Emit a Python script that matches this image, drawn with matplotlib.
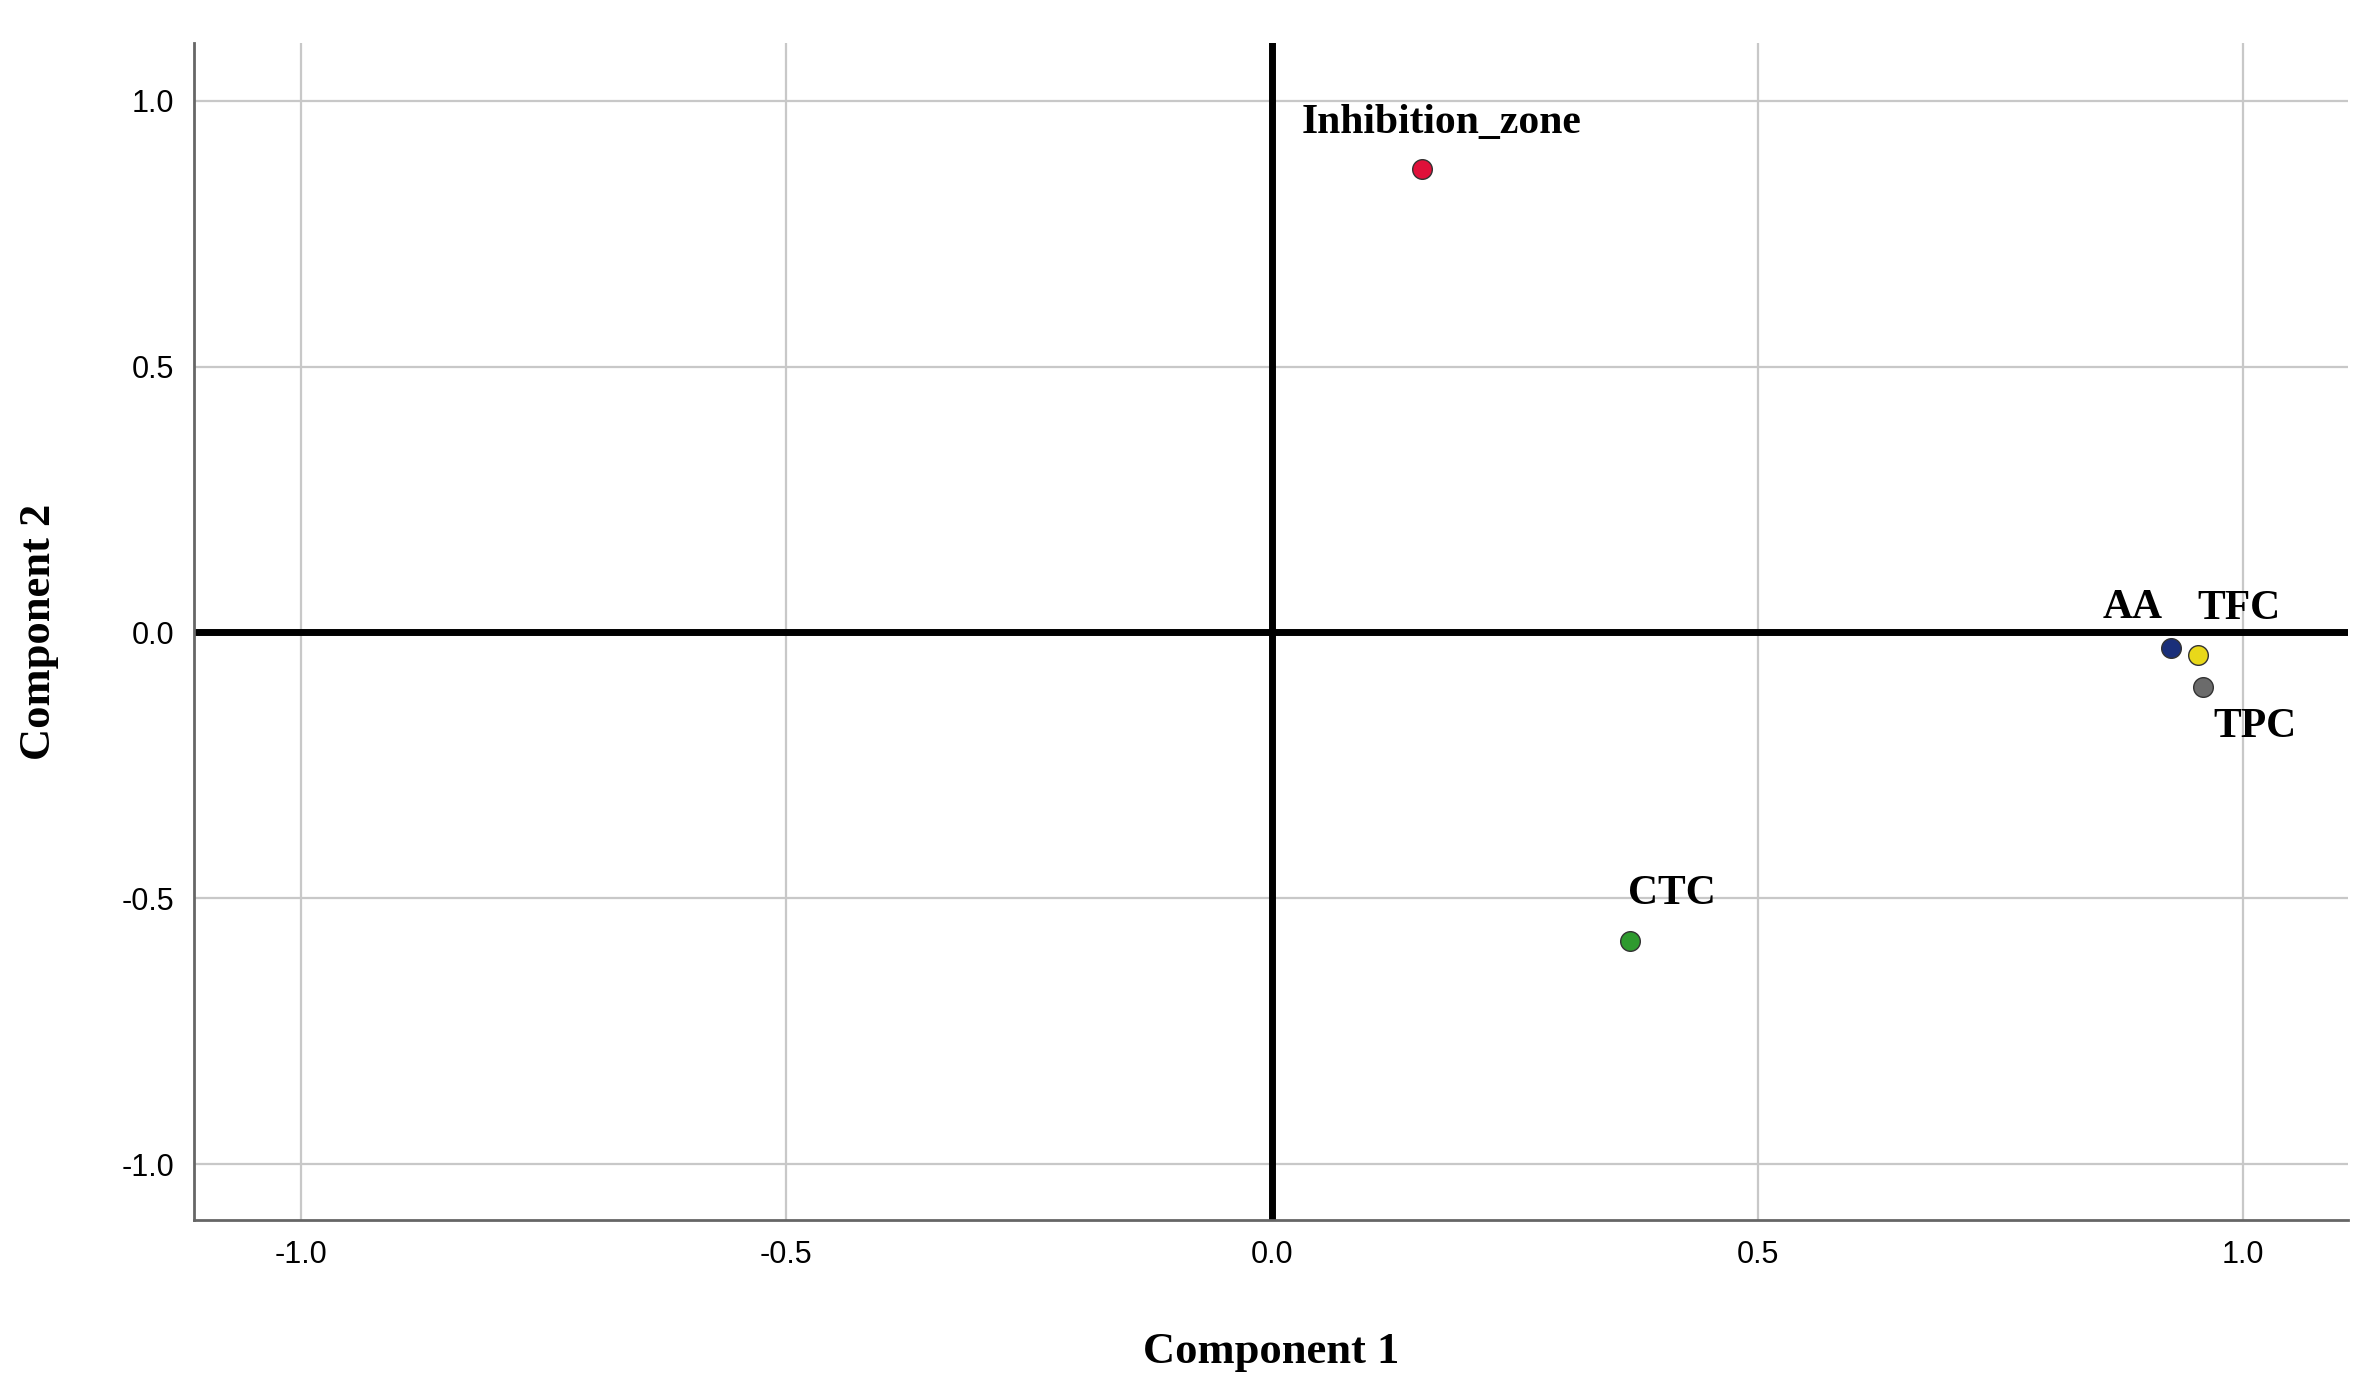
import matplotlib
matplotlib.use("Agg")
import matplotlib.pyplot as plt

names = ["Inhibition_zone", "CTC", "AA", "TFC", "TPC"]
comp1 = [0.154, 0.369, 0.926, 0.953, 0.959]
comp2 = [0.871, -0.581, -0.030, -0.042, -0.102]
colors = ["#e0103a", "#2e9a2e", "#1a2f7a", "#e8d81a", "#6b6b6b"]
# label offsets in points and horizontal alignment
offsets = [(-86, 26), (-2, 27), (-6, 22), (0, 26), (7, -36)]
aligns = ["left", "left", "right", "left", "left"]

fig = plt.figure(figsize=(23.79, 13.79), dpi=100, facecolor="white")
ax = fig.add_axes([0.0815, 0.115, 0.9055, 0.854])

ax.grid(True, color="#c8c8c8", linewidth=1.6)
ax.set_axisbelow(True)
ax.axhline(0, color="black", linewidth=5, zorder=2)
ax.axvline(0, color="black", linewidth=5, zorder=2)

for n, x, y, c, off, ha in zip(names, comp1, comp2, colors, offsets, aligns):
    ax.scatter(x, y, s=200, color=c, edgecolor="#333333", linewidth=1, zorder=5)
    ax.annotate(n, (x, y), xytext=off, textcoords="offset points", ha=ha, va="baseline",
                fontsize=30, fontweight="bold", family="Liberation Serif", zorder=6)

ax.set_xlim(-1.11, 1.108)
ax.set_ylim(-1.106, 1.109)
ax.set_xticks([-1.0, -0.5, 0.0, 0.5, 1.0])
ax.set_yticks([-1.0, -0.5, 0.0, 0.5, 1.0])
ax.set_xticklabels(["-1.0", "-0.5", "0.0", "0.5", "1.0"])
ax.set_yticklabels(["-1.0", "-0.5", "0.0", "0.5", "1.0"])
ax.tick_params(labelsize=22, length=0, pad=14, labelfontfamily="Liberation Sans")
for s in ["top", "right"]:
    ax.spines[s].set_visible(False)
for s in ["left", "bottom"]:
    ax.spines[s].set_color("#666666")
    ax.spines[s].set_linewidth(2)

ax.set_xlabel("Component 1", fontsize=32, fontweight="bold", family="Liberation Serif", labelpad=45)
ax.set_ylabel("Component 2", fontsize=32, fontweight="bold", family="Liberation Serif", labelpad=45)

fig.savefig("out.png", dpi=100, facecolor="white")
